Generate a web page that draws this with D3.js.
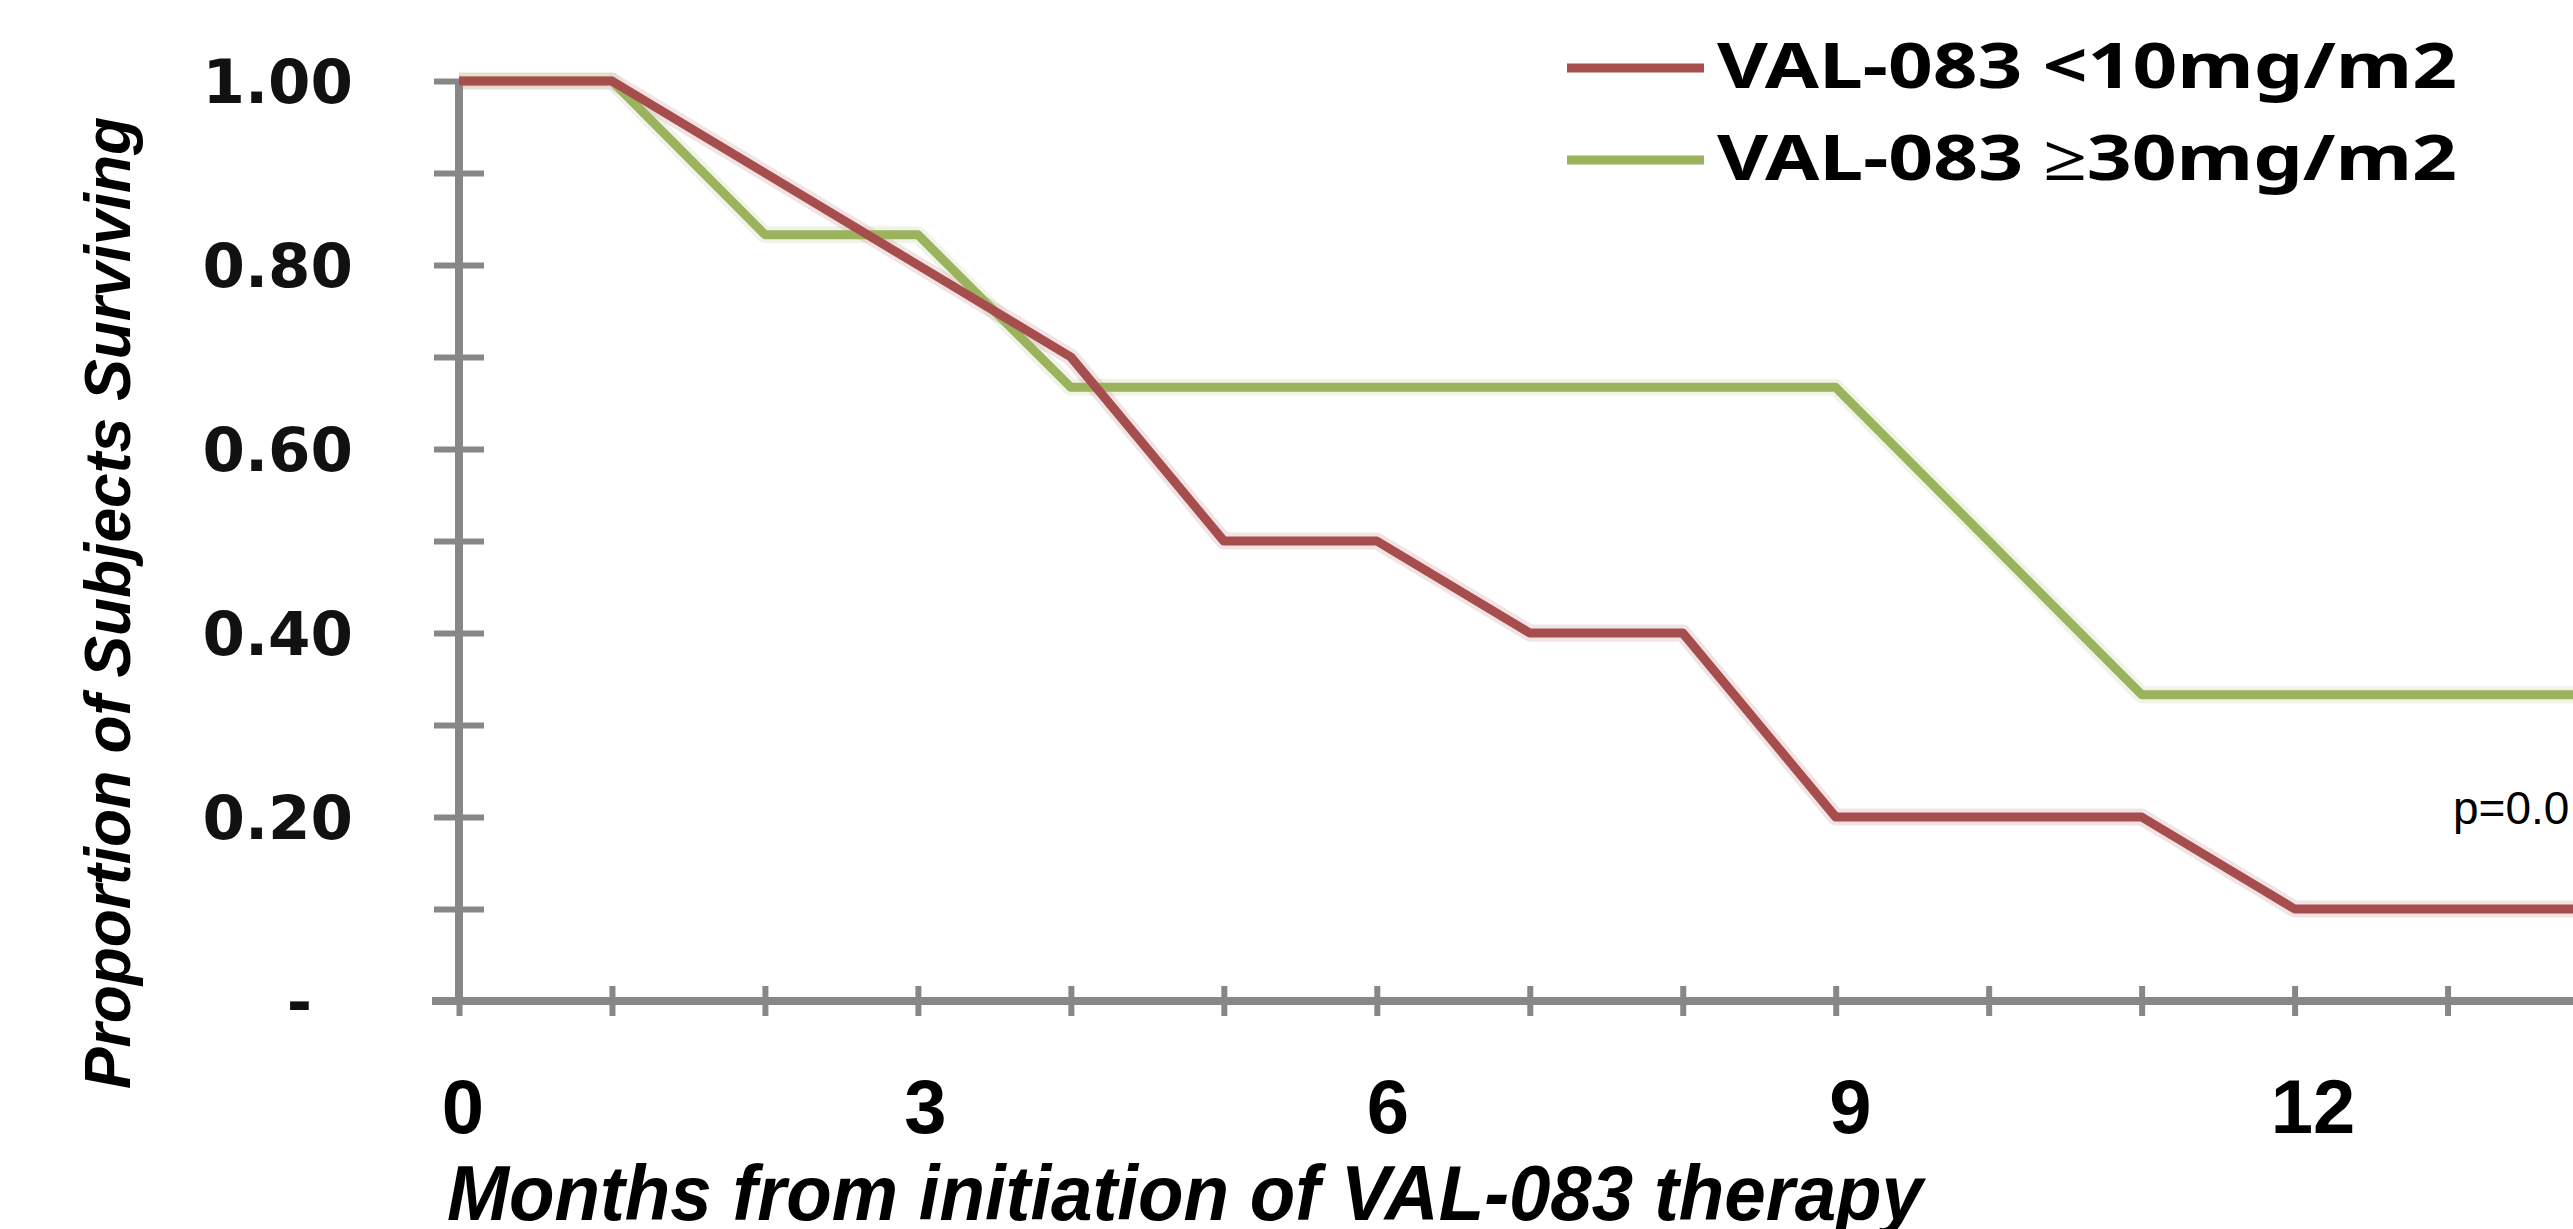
<!DOCTYPE html>
<html>
<head>
<meta charset="utf-8">
<script src="https://cdn.jsdelivr.net/npm/d3@7"></script>
<style>
  body { margin: 0; background: #fff; overflow: hidden; }
  svg { display: block; }
</style>
</head>
<body>
<div id="chart"></div>
<script>
// survival data (proportion surviving per month)
var months = [0, 1, 2, 3, 4, 5, 6, 7, 8, 9, 10, 11, 12, 13, 14];
var lowDose = [1.0, 1.0, 0.9, 0.8, 0.7, 0.5, 0.5, 0.4, 0.4, 0.2, 0.2, 0.2, 0.1, 0.1, 0.1];
var highDose = [1.0, 1.0, 0.833, 0.833, 0.667, 0.667, 0.667, 0.667, 0.667, 0.667, 0.5, 0.333, 0.333, 0.333, 0.333];

var seriesNames = ["VAL-083 <10mg/m2", "VAL-083 \u226530mg/m2"];
var seriesColors = ["#a64d4e", "#9bb35c"];

var yTicks = [0.1, 0.2, 0.3, 0.4, 0.5, 0.6, 0.7, 0.8, 0.9, 1.0];
var yLabelValues = [0, 0.2, 0.4, 0.6, 0.8, 1.0];
var yLabelText = ["-", "0.20", "0.40", "0.60", "0.80", "1.00"];
var xLabelValues = [0, 3, 6, 9, 12];

var svgWidth = 2573;
var svgHeight = 1229;

var svg = d3.select("#chart")
  .append("svg")
  .attr("width", svgWidth)
  .attr("height", svgHeight);

// scales
var x = d3.scaleLinear().domain([0, 13.82]).range([459, svgWidth]);
var y = d3.scaleLinear().domain([0, 1]).range([1001, 81]);

var axisColor = "#878787";

// y axis, ticks crossing the line
var yLeft = svg.append("g")
  .attr("transform", `translate(${x(0)},0)`)
  .call(d3.axisLeft(y).tickValues(yTicks).tickSizeInner(25).tickSizeOuter(0).tickFormat(""));
var yRight = svg.append("g")
  .attr("transform", `translate(${x(0)},0)`)
  .call(d3.axisRight(y).tickValues(yTicks).tickSizeInner(25).tickSizeOuter(0).tickFormat(""));

// x axis
var xBottom = svg.append("g")
  .attr("transform", `translate(0,${y(0)})`)
  .call(d3.axisBottom(x).tickValues(months).tickSizeInner(15).tickSizeOuter(0).tickFormat(""));
var xTop = svg.append("g")
  .attr("transform", `translate(0,${y(0)})`)
  .call(d3.axisTop(x).tickValues(months).tickSizeInner(15).tickSizeOuter(0).tickFormat(""));

[yLeft, yRight, xBottom, xTop].forEach(function(g) {
  g.selectAll(".tick line").attr("stroke", axisColor).attr("stroke-width", 6);
  g.select(".domain").attr("stroke", "none");
});

// axis lines themselves
svg.append("line")
  .attr("x1", x(0)).attr("x2", x(0))
  .attr("y1", y(1)).attr("y2", y(0))
  .attr("stroke", axisColor).attr("stroke-width", 8);
svg.append("line")
  .attr("x1", x(0) - 27).attr("x2", svgWidth)
  .attr("y1", y(0)).attr("y2", y(0))
  .attr("stroke", axisColor).attr("stroke-width", 8);

// y tick labels
svg.selectAll(".ylab")
  .data(yLabelValues)
  .enter()
  .append("text")
  .attr("class", "ylab")
  .attr("x", (d, i) => i === 0 ? 312 : 353)
  .attr("y", d => y(d))
  .attr("dy", "0.36em")
  .attr("text-anchor", "end")
  .attr("font-family", "DejaVu Sans")
  .attr("font-weight", "bold")
  .attr("font-size", 61)
  .attr("fill", "#111")
  .text((d, i) => yLabelText[i]);

// x tick labels
svg.selectAll(".xlab")
  .data(xLabelValues)
  .enter()
  .append("text")
  .attr("class", "xlab")
  .attr("x", d => x(d) + 4 + d * 1.2)
  .attr("y", 1133)
  .attr("text-anchor", "middle")
  .attr("font-family", "Liberation Sans")
  .attr("font-weight", "bold")
  .attr("font-size", 76)
  .attr("fill", "#000")
  .text(d => d);

// axis titles
svg.append("text")
  .attr("x", 447)
  .attr("y", 1220)
  .attr("font-family", "Liberation Sans")
  .attr("font-weight", "bold")
  .attr("font-style", "italic")
  .attr("font-size", 77)
  .attr("textLength", 1476)
  .attr("lengthAdjust", "spacingAndGlyphs")
  .attr("fill", "#000")
  .text("Months from initiation of VAL-083 therapy");

svg.append("text")
  .attr("transform", "translate(130,1089) rotate(-90)")
  .attr("x", 0)
  .attr("y", 0)
  .attr("font-family", "Liberation Sans")
  .attr("font-weight", "bold")
  .attr("font-style", "italic")
  .attr("font-size", 65)
  .attr("textLength", 972)
  .attr("lengthAdjust", "spacingAndGlyphs")
  .attr("fill", "#000")
  .text("Proportion of Subjects Surviving");

// survival lines
var line = d3.line()
  .x((d, i) => x(months[i]))
  .y(d => y(d));

[lowDose, highDose].forEach(function(series, k) {
  svg.append("path")
    .datum(series)
    .attr("fill", "none")
    .attr("stroke", seriesColors[k])
    .attr("stroke-opacity", 0.15)
    .attr("stroke-width", 17)
    .attr("stroke-linejoin", "round")
    .attr("d", line);
});
[highDose, lowDose].forEach(function(series, k) {
  svg.append("path")
    .datum(series)
    .attr("fill", "none")
    .attr("stroke", seriesColors[1 - k])
    .attr("stroke-width", 9)
    .attr("stroke-linejoin", "round")
    .attr("d", line);
});

// legend
var legend = svg.append("g");
var legendRows = legend.selectAll("g")
  .data(seriesNames)
  .enter()
  .append("g")
  .attr("transform", (d, i) => `translate(1567,${68 + i * 92})`);

legendRows.append("line")
  .attr("x1", 0).attr("x2", 137)
  .attr("y1", 0).attr("y2", 0)
  .attr("stroke", (d, i) => seriesColors[i])
  .attr("stroke-width", 9);

legendRows.append("text")
  .attr("x", 150)
  .attr("y", 20)
  .attr("font-family", "Noto Sans")
  .attr("font-weight", "bold")
  .attr("font-size", 63)
  .attr("textLength", 740)
  .attr("lengthAdjust", "spacingAndGlyphs")
  .attr("fill", "#000")
  .text(d => d);

// p value note (cut by the right edge in the source)
svg.append("text")
  .attr("x", 2453)
  .attr("y", 824)
  .attr("font-family", "Liberation Sans")
  .attr("font-size", 46)
  .attr("fill", "#000")
  .text("p=0.0");
</script>
</body>
</html>
